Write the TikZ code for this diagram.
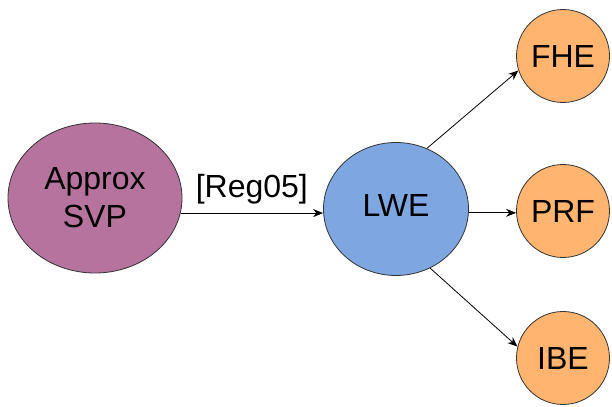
\documentclass[tikz,border=0pt]{standalone}
\usepackage{fontspec}
\setmainfont{Liberation Sans}
\usetikzlibrary{shapes.geometric}
\usetikzlibrary{calc}
\usetikzlibrary{arrows.meta}

\definecolor{svpfill}{HTML}{B5739D}
\definecolor{lwefill}{HTML}{7EA6E0}
\definecolor{appfill}{HTML}{FFB570}

\begin{document}
\begin{tikzpicture}[x=0.75pt,y=-0.75pt,
        problem/.style={ellipse,draw=black!80,line width=0.6pt,inner sep=0pt,
            align=center,font=\fontsize{24}{28.5}\selectfont},
        app/.style={problem,fill=appfill,minimum width=69.75pt,minimum height=69.75pt},
        reduce/.style={-{Stealth[length=7.5pt,width=6pt]},line width=0.6pt}]
                \useasboundingbox (0,0) rectangle (612,407);

                \node[problem,fill=svpfill,minimum width=130.5pt,minimum height=112.5pt] (svp) at (95,198) {Approx\\SVP};
                \node[problem,fill=lwefill,minimum width=108.75pt,minimum height=99.75pt] (lwe) at (396,209) {};
                \node[font=\fontsize{24}{28.5}\selectfont] (lwetext) at (396,205) {LWE};

                \node[app] (fhe) at (563,56) {FHE};
                \node[app] (prf) at (563,211) {PRF};
                \node[app] (ibe) at (563,358) {IBE};

                \draw[reduce] (svp.-10) -- (svp.-10 -| lwe.west) node[midway,above=3pt,font=\fontsize{24}{28.5}\selectfont] (reg) {[Reg05]};

                \draw[reduce] (lwe.63) -- (fhe.198);
                \draw[reduce] (lwe.-3) -- (lwe.-3 -| prf.west);
                \draw[reduce] (lwe.-60) -- (ibe.166);
            \end{tikzpicture}
\end{document}
